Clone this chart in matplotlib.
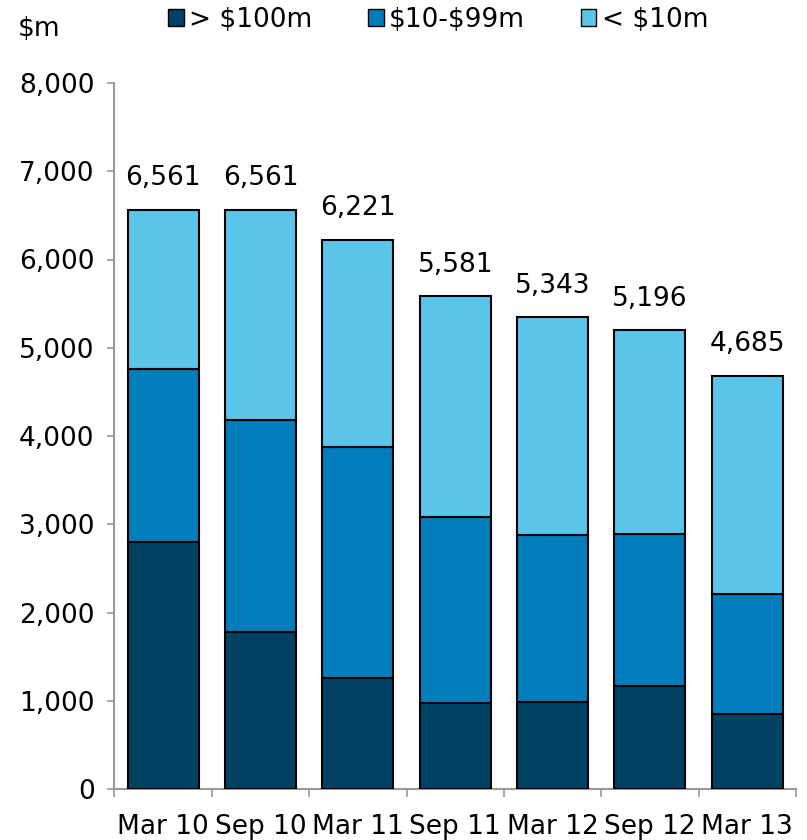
import numpy as np
import matplotlib
matplotlib.use('Agg')
import matplotlib.pyplot as plt
from matplotlib.patches import Patch

# --- data ---
categories = ['Mar 10', 'Sep 10', 'Mar 11', 'Sep 11', 'Mar 12', 'Sep 12', 'Mar 13']
over_100m = [2800, 1775, 1255, 975, 985, 1165, 850]
from_10_to_99m = [1960, 2405, 2620, 2105, 1895, 1725, 1360]
totals = [6561, 6561, 6221, 5581, 5343, 5196, 4685]
under_10m = [t - a - b for t, a, b in zip(totals, over_100m, from_10_to_99m)]
series_labels = ['> \\$100m', '\\$10-\\$99m', '< \\$10m']
colors = ['#004164', '#007DBA', '#5AC5E8']

plt.rcParams['font.family'] = 'DejaVu Sans'
plt.rcParams['font.size'] = 19

fig = plt.figure(figsize=(8.07, 8.40), dpi=100)
ax = fig.add_axes([114 / 807, 51 / 840, 682 / 807, 706 / 840])

x = np.arange(len(categories))
w = 0.73
bottom = np.zeros(len(categories))
for vals, col in zip([over_100m, from_10_to_99m, under_10m], colors):
    ax.bar(x, vals, w, bottom=bottom, color=col, edgecolor='black', linewidth=1.5, zorder=3)
    bottom += np.array(vals)

for xi, t in zip(x, totals):
    ax.annotate(f'{t:,}', xy=(xi, t), xytext=(0, 23), textcoords='offset points',
                ha='center', va='center', fontsize=19)

ax.set_xlim(-0.505, len(categories) - 0.5)
ax.set_ylim(0, 8000)
ax.set_yticks(np.arange(0, 8001, 1000))
ax.set_yticklabels([f'{v:,}' for v in range(0, 8001, 1000)])
ax.set_xticks(x)
ax.set_xticklabels(categories)
ax.tick_params(axis='x', length=0, pad=18)
ax.set_xticks(np.arange(-0.5, len(categories), 1.0), minor=True)
ax.tick_params(axis='x', which='minor', length=6, color='#999999', width=1.2, direction='out')
ax.tick_params(axis='y', length=5, color='#999999', width=1.2, pad=9)

for s in ['top', 'right']:
    ax.spines[s].set_visible(False)
for s in ['left', 'bottom']:
    ax.spines[s].set_color('#999999')
    ax.spines[s].set_linewidth(1.5)

fig.text(18 / 807, 1 - 29 / 840, '\\$m', fontsize=19, va='center')

handles = [Patch(facecolor=c, edgecolor='black', linewidth=1) for c in colors]
fig.legend(handles, series_labels, loc='center', bbox_to_anchor=(0.543, 1 - 20 / 840), ncol=3,
           frameon=False, handlelength=0.6, handleheight=0.6, handletextpad=0.2,
           columnspacing=2.1, fontsize=19, borderpad=0)

fig.savefig('out.png', dpi=100)
